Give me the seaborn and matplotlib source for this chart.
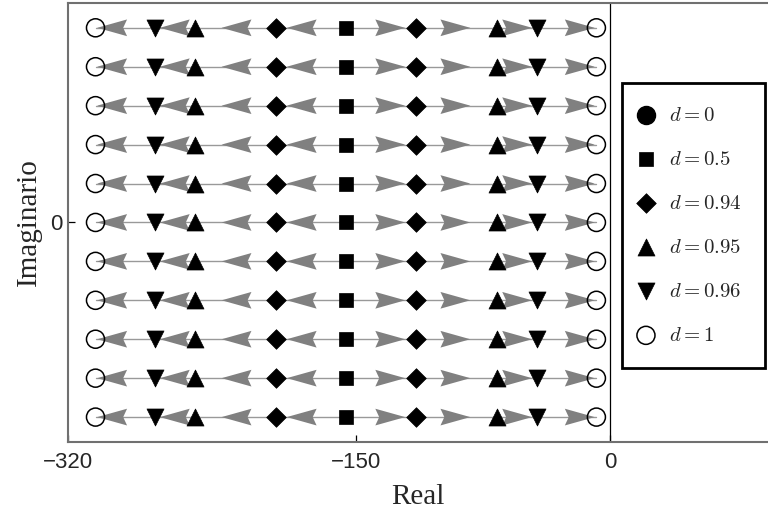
import numpy as np
import pandas as pd
import matplotlib
matplotlib.use("Agg")
import matplotlib.pyplot as plt
from matplotlib.path import Path
from matplotlib.ticker import FixedLocator
import seaborn as sns

# Datos: polos (parte real) para cada valor de d, repetidos en cada fila imaginaria
filas = [-5, -4, -3, -2, -1, 0, 1, 2, 3, 4, 5]
d_0 = []                      # d = 0 no aparece dentro de la ventana
d_05 = [-156]
d_094 = [-197.5, -114.5]
d_095 = [-245, -67]
d_096 = [-269, -43]
d_1 = [-304, -8]
flechas_izq = [-191, -229.5, -266, -303]   # puntas de flecha hacia la izquierda
flechas_der = [-121, -82.5, -46, -9]       # puntas de flecha hacia la derecha
ticks_x = [-320, -150, 0]
ticks_y = [0]

def tabla(xs):
    return pd.DataFrame([(x, y) for y in filas for x in xs], columns=["re", "im"])

sns.set_theme(style="white")
plt.rcParams["mathtext.fontset"] = "cm"
plt.rcParams["font.family"] = ["Liberation Sans", "DejaVu Sans"]

fig = plt.figure(figsize=(7.68, 5.16), dpi=100)
ax = fig.add_axes([0.0891, 0.1434, 0.9109, 0.851])

# lineas finas de cada fila
lineas = tabla([min(d_1), max(d_1)])
lineas["fila"] = lineas["im"]
sns.lineplot(data=lineas, x="re", y="im", units="fila", estimator=None,
             color="#999999", lw=1, ax=ax, zorder=1)

# flechas grises
cod = [Path.MOVETO, Path.LINETO, Path.LINETO, Path.LINETO, Path.CLOSEPOLY]
punta_izq = Path([(0, 0), (1, 0.28), (0.87, 0), (1, -0.28), (0, 0)], cod)
punta_der = Path([(0, 0), (-1, 0.28), (-0.87, 0), (-1, -0.28), (0, 0)], cod)
sns.scatterplot(data=tabla(flechas_izq), x="re", y="im", marker=punta_izq, s=1850,
                color="#808080", edgecolor="none", ax=ax, zorder=2)
sns.scatterplot(data=tabla(flechas_der), x="re", y="im", marker=punta_der, s=1850,
                color="#808080", edgecolor="none", ax=ax, zorder=2)

# marcadores
ax.scatter(d_0, d_0, marker="o", s=169, color="black", label=r"$d = 0$")
sns.scatterplot(data=tabla(d_05), x="re", y="im", marker="s", s=90, color="black",
                edgecolor="black", linewidth=0.5, ax=ax, zorder=3, label=r"$d = 0.5$")
sns.scatterplot(data=tabla(d_094), x="re", y="im", marker="D", s=100, color="black",
                edgecolor="black", linewidth=0.5, ax=ax, zorder=3, label=r"$d = 0.94$")
sns.scatterplot(data=tabla(d_095), x="re", y="im", marker="^", s=150, color="black",
                edgecolor="black", linewidth=0.5, ax=ax, zorder=3, label=r"$d = 0.95$")
sns.scatterplot(data=tabla(d_096), x="re", y="im", marker="v", s=150, color="black",
                edgecolor="black", linewidth=0.5, ax=ax, zorder=3, label=r"$d = 0.96$")
sns.scatterplot(data=tabla(d_1), x="re", y="im", marker="o", s=169, facecolor="none",
                edgecolor="black", linewidth=1.1, ax=ax, zorder=3, label=r"$d = 1$")

ax.axvline(0, color="black", lw=0.9, zorder=1)

ax.set_xlim(-320, 93.4)
ax.set_ylim(-5.64, 5.64)
ax.xaxis.set_major_locator(FixedLocator(ticks_x))
ax.yaxis.set_major_locator(FixedLocator(ticks_y))
ax.tick_params(axis="both", direction="in", length=5, width=0.9, color="black",
               labelsize=16, bottom=True, left=True)
ax.tick_params(axis="x", pad=7)
ax.tick_params(axis="y", pad=4)

for lado in ["left", "bottom", "top"]:
    ax.spines[lado].set_color("#707070")
    ax.spines[lado].set_linewidth(1.5)
ax.spines["right"].set_visible(False)

ax.set_xlabel("Real", family=["Liberation Serif"], fontsize=21, labelpad=8)
ax.set_ylabel("Imaginario", family=["Liberation Serif"], fontsize=21, labelpad=6)

leg = ax.legend(loc="upper left", bbox_to_anchor=(0.7913, 0.8178), borderaxespad=0,
                fontsize=15, frameon=True, fancybox=False, borderpad=1.1,
                handlelength=0.1, handletextpad=1.05, labelspacing=1.2)
leg.get_frame().set_edgecolor("black")
leg.get_frame().set_linewidth(2)
leg.get_frame().set_alpha(1)

fig.savefig("out.png", dpi=100)
